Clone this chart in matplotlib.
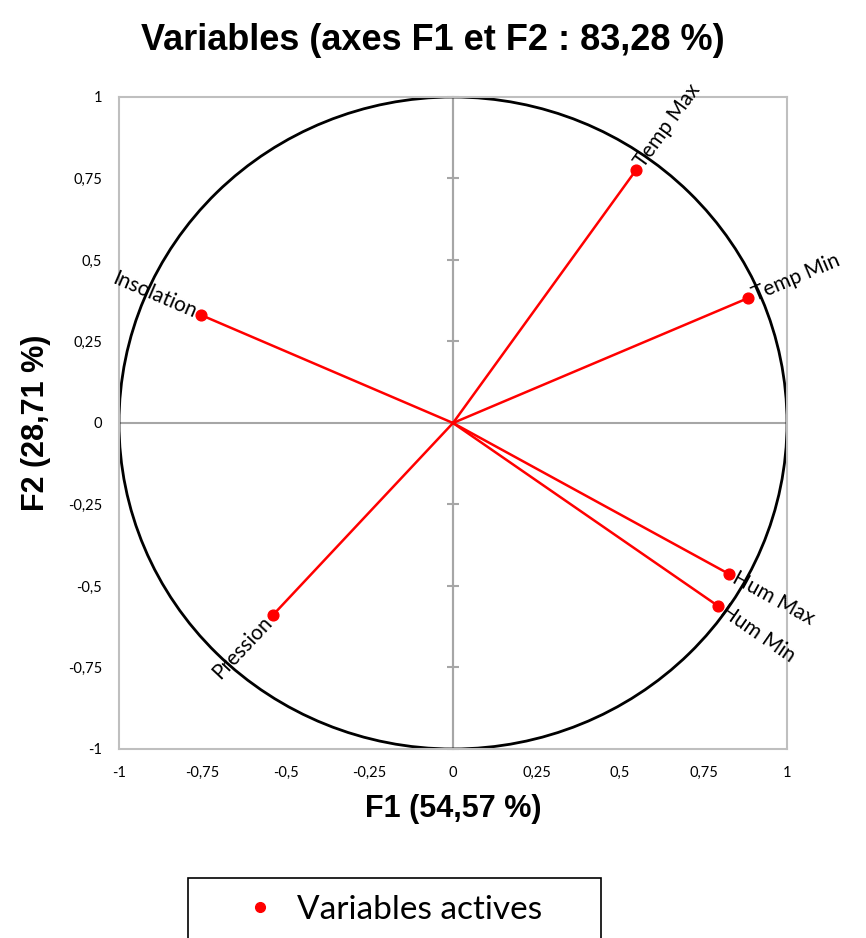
import numpy as np
import matplotlib
matplotlib.use("Agg")
import matplotlib.pyplot as plt
from matplotlib.patches import Circle, Rectangle
from matplotlib.lines import Line2D

# correlations of the variables with the first two factors
variables = ["Temp Max", "Temp Min", "Insolation", "Pression", "Hum Max", "Hum Min"]
f1 = [0.548, 0.883, -0.754, -0.539, 0.826, 0.793]
f2 = [0.776, 0.383, 0.331, -0.589, -0.463, -0.561]

ticks = [-1, -0.75, -0.5, -0.25, 0, 0.25, 0.5, 0.75, 1]
tick_labels = ["-1", "-0,75", "-0,5", "-0,25", "0", "0,25", "0,5", "0,75", "1"]

title = "Variables (axes F1 et F2 : 83,28 %)"
xlabel = "F1 (54,57 %)"
ylabel = "F2 (28,71 %)"

narrow = ["Liberation Sans", "DejaVu Sans"]
body = ["Lato", "DejaVu Sans"]
grey = "#bfbfbf"
axis_grey = "#a6a6a6"

fig = plt.figure(figsize=(8.66, 9.38), dpi=100)
ax = fig.add_axes([0.1374, 0.2015, 0.7714, 0.6951])
ax.set_xlim(-1, 1)
ax.set_ylim(-1, 1)

for s in ax.spines.values():
    s.set_color(grey)
    s.set_linewidth(1.5)

ax.set_xticks(ticks)
ax.set_xticklabels(tick_labels, family=body, fontsize=10.5)
ax.set_yticks(ticks)
ax.set_yticklabels(tick_labels, family=body, fontsize=10.5)
ax.tick_params(length=0, pad=12)

# zero lines; the vertical one carries the tick marks
ax.axhline(0, color=axis_grey, lw=1.5, zorder=1)
ax.axvline(0, color=axis_grey, lw=1.5, zorder=1)
sec = ax.secondary_yaxis(0.5)
sec.set_yticks(ticks)
sec.set_yticklabels([])
for s in sec.spines.values():
    s.set_color(axis_grey)
    s.set_linewidth(1.5)
sec.tick_params(direction="inout", length=8, width=1.5, color=axis_grey)

ax.add_patch(Circle((0, 0), 1, fill=False, ec="black", lw=2, zorder=2))

for x, y in zip(f1, f2):
    ax.plot([0, x], [0, y], color="red", lw=1.8, zorder=3)
ax.scatter(f1, f2, s=60, color="red", zorder=4)

# labels follow the direction of each vector, outside its end point
fig.canvas.draw()
origin = ax.transData.transform((0, 0))
for name, x, y in zip(variables, f1, f2):
    px, py = ax.transData.transform((x, y))
    ang = np.degrees(np.arctan2(py - origin[1], px - origin[0]))
    u = np.array([np.cos(np.radians(ang)), np.sin(np.radians(ang))])
    off = u * 4
    if x >= 0:
        rot, ha = ang, "left"
    else:
        rot, ha = ang + 180, "right"
    ax.annotate(name, (x, y), xytext=(off[0], off[1]), textcoords="offset points",
                rotation=rot, rotation_mode="anchor", ha=ha, va="center",
                family=body, fontsize=15, zorder=5)

fig.text(0.5, 0.957, title, ha="center", va="center", family=narrow,
         fontweight="bold", fontsize=26)
ax.set_xlabel(xlabel, family=narrow, fontweight="bold", fontsize=22, labelpad=10)
ax.set_ylabel(ylabel, family=narrow, fontweight="bold", fontsize=22, labelpad=12)

# legend box running off the bottom edge
fig.patches.append(Rectangle((0.2171, -0.02), 0.4769, 0.084, transform=fig.transFigure,
                             fill=False, ec="black", lw=1.2))
handle = Line2D([], [], marker="o", ls="none", color="red", markersize=7)
fig.legend([handle], ["Variables actives"], loc="center", bbox_to_anchor=(0.444, 0.0299),
           frameon=False, prop={"family": body, "size": 24}, handletextpad=0.1)

fig.savefig("out.png", dpi=100)
